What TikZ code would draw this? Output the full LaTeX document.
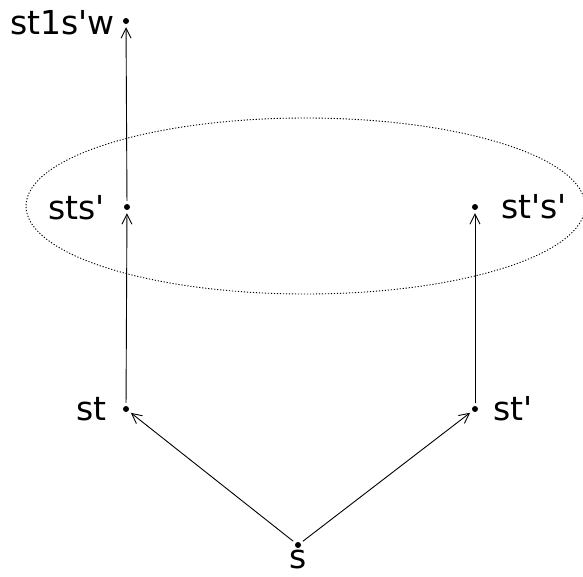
\documentclass[tikz,border=0pt]{standalone}
\usepackage{fontspec}
\setmainfont{DejaVu Sans}
\usetikzlibrary{arrows.meta}
\newcommand{\q}{\textquotesingle}
\begin{document}
\begin{tikzpicture}[x=1pt,y=-1pt,
  dotnode/.style={circle,fill=black,inner sep=0pt,minimum size=6pt},
  lbl/.style={font=\fontsize{33}{39}\selectfont,inner sep=0pt},
  arr/.style={-{Straight Barb[length=10pt,width=10pt]},line width=0.9pt,shorten >=3pt,shorten <=3pt}]
\useasboundingbox (0,0) rectangle (583,576);
\node[dotnode] (w) at (126,21) {};
\node[dotnode] (a) at (127,207) {};
\node[dotnode] (b) at (475,207) {};
\node[dotnode] (st) at (126,409) {};
\node[dotnode] (stp) at (475,409) {};
\node[dotnode] (s) at (298,545) {};
\draw[line width=0.9pt,dash pattern=on 1.2pt off 1.8pt] (305.5,206) ellipse [x radius=279.5,y radius=88];
\node[lbl,anchor=base east] (lw) at (115,34) {st1s\q w};
\node[lbl,anchor=base east] (la) at (105,219) {sts\q};
\node[lbl,anchor=base west] (lb) at (501,218) {st\q s\q};
\node[lbl,anchor=base east] (lst) at (107,420) {st};
\node[lbl,anchor=base west] (lstp) at (493,420) {st\q};
\node[lbl,anchor=base,text depth=0pt] (ls) at (298,568) {s};
\draw[arr] (s) -- (st);
\draw[arr] (s) -- (stp);
\draw[arr] (st) -- (a);
\draw[arr] (a) -- (w);
\draw[arr] (stp) -- (b);
\end{tikzpicture}
\end{document}
